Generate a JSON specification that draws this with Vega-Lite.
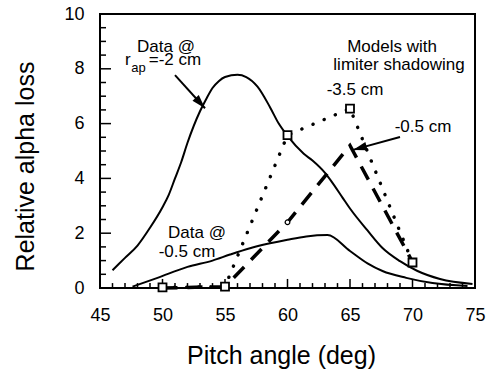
{
  "$schema": "https://vega.github.io/schema/vega-lite/v6.json",
  "width": 375,
  "height": 274,
  "autosize": {"type": "none"},
  "padding": {"left": 100, "top": 14, "right": 12, "bottom": 86},
  "background": "white",
  "config": {
    "view": {"stroke": "black", "strokeWidth": 2, "fill": "transparent"},
    "font": "Liberation Sans",
    "axis": {
      "grid": false,
      "domain": false,
      "tickColor": "black",
      "tickWidth": 1.5,
      "labelFont": "Liberation Sans",
      "labelFontSize": 18,
      "labelColor": "black",
      "labelFlush": false,
      "labelOverlap": false,
      "titleFont": "Liberation Sans",
      "titleFontSize": 25,
      "titleFontWeight": "normal",
      "titleColor": "black"
    }
  },
  "datasets": {
    "curves": [
      {"s": "rap2", "x": 46.0, "y": 0.65},
      {"s": "rap2", "x": 47.0, "y": 1.1},
      {"s": "rap2", "x": 48.0, "y": 1.55},
      {"s": "rap2", "x": 49.0, "y": 2.2},
      {"s": "rap2", "x": 50.0, "y": 2.95},
      {"s": "rap2", "x": 50.5, "y": 3.4},
      {"s": "rap2", "x": 51.0, "y": 4.0},
      {"s": "rap2", "x": 51.5, "y": 4.6},
      {"s": "rap2", "x": 52.0, "y": 5.3},
      {"s": "rap2", "x": 53.0, "y": 6.45},
      {"s": "rap2", "x": 53.5, "y": 6.9},
      {"s": "rap2", "x": 54.0, "y": 7.3},
      {"s": "rap2", "x": 54.5, "y": 7.55},
      {"s": "rap2", "x": 55.0, "y": 7.7},
      {"s": "rap2", "x": 56.0, "y": 7.78},
      {"s": "rap2", "x": 56.7, "y": 7.7},
      {"s": "rap2", "x": 57.6, "y": 7.35},
      {"s": "rap2", "x": 58.6, "y": 6.6},
      {"s": "rap2", "x": 59.3, "y": 6.0},
      {"s": "rap2", "x": 60.0, "y": 5.55},
      {"s": "rap2", "x": 61.3, "y": 4.9},
      {"s": "rap2", "x": 62.0, "y": 4.65},
      {"s": "rap2", "x": 63.0, "y": 4.2},
      {"s": "rap2", "x": 63.5, "y": 3.9},
      {"s": "rap2", "x": 64.4, "y": 3.3},
      {"s": "rap2", "x": 65.0, "y": 2.9},
      {"s": "rap2", "x": 66.4, "y": 2.1},
      {"s": "rap2", "x": 67.6, "y": 1.46},
      {"s": "rap2", "x": 69.0, "y": 0.98},
      {"s": "rap2", "x": 70.4, "y": 0.62},
      {"s": "rap2", "x": 72.2, "y": 0.33},
      {"s": "rap2", "x": 74.8, "y": 0.15},
      {"s": "rap05", "x": 47.6, "y": 0.05},
      {"s": "rap05", "x": 49.6, "y": 0.37},
      {"s": "rap05", "x": 52.0, "y": 0.77},
      {"s": "rap05", "x": 54.0, "y": 1.0},
      {"s": "rap05", "x": 55.4, "y": 1.22},
      {"s": "rap05", "x": 57.0, "y": 1.45},
      {"s": "rap05", "x": 58.6, "y": 1.63},
      {"s": "rap05", "x": 60.0, "y": 1.76},
      {"s": "rap05", "x": 61.5, "y": 1.88},
      {"s": "rap05", "x": 63.2, "y": 1.93},
      {"s": "rap05", "x": 65.0, "y": 1.35},
      {"s": "rap05", "x": 66.4, "y": 0.9},
      {"s": "rap05", "x": 67.6, "y": 0.62},
      {"s": "rap05", "x": 69.5, "y": 0.37},
      {"s": "rap05", "x": 71.6, "y": 0.18},
      {"s": "rap05", "x": 74.4, "y": 0.07}
    ],
    "model35": [
      {"x": 50, "y": 0.02},
      {"x": 55, "y": 0.05},
      {"x": 60, "y": 5.58},
      {"x": 65, "y": 6.55},
      {"x": 70, "y": 0.93}
    ],
    "model05": [
      {"x": 50, "y": 0.0},
      {"x": 55, "y": 0.05},
      {"x": 60, "y": 2.4},
      {"x": 65, "y": 5.2},
      {"x": 70, "y": 0.95}
    ],
    "circle": [{"x": 60, "y": 2.4}],
    "arrows": [
      {"a": "a1", "x": 51.0, "y": 7.77},
      {"a": "a1", "x": 53.4, "y": 6.56},
      {"a": "a2", "x": 69.0, "y": 5.51},
      {"a": "a2", "x": 65.24, "y": 5.04}
    ],
    "head1": [{"x": 53.4, "y": 6.56}],
    "head2": [{"x": 65.24, "y": 5.04}],
    "xmajor": [{"v": 50}, {"v": 55}, {"v": 60}, {"v": 65}, {"v": 70}],
    "xminor": [{"v": 46}, {"v": 47}, {"v": 48}, {"v": 49}, {"v": 51}, {"v": 52}, {"v": 53}, {"v": 54}, {"v": 56}, {"v": 57}, {"v": 58}, {"v": 59}, {"v": 61}, {"v": 62}, {"v": 63}, {"v": 64}, {"v": 66}, {"v": 67}, {"v": 68}, {"v": 69}, {"v": 71}, {"v": 72}, {"v": 73}, {"v": 74}],
    "ymajor": [{"v": 2}, {"v": 4}, {"v": 6}, {"v": 8}],
    "yminor": [{"v": 0.5}, {"v": 1}, {"v": 1.5}, {"v": 2.5}, {"v": 3}, {"v": 3.5}, {"v": 4.5}, {"v": 5}, {"v": 5.5}, {"v": 6.5}, {"v": 7}, {"v": 7.5}, {"v": 8.5}, {"v": 9}, {"v": 9.5}],
    "labels": [
      {"x": 50.28, "y": 8.61, "t": "Data @"},
      {"x": 68.36, "y": 8.61, "t": "Models with"},
      {"x": 68.92, "y": 7.96, "t": "limiter shadowing"},
      {"x": 65.4, "y": 7.04, "t": "-3.5 cm"},
      {"x": 70.84, "y": 5.69, "t": "-0.5 cm"},
      {"x": 52.76, "y": 1.82, "t": "Data @"},
      {"x": 51.96, "y": 1.13, "t": "-0.5 cm"}
    ],
    "rlabel": [
      {"x": 47.0, "y": 8.14, "t": "r"},
      {"x": 48.9, "y": 8.14, "t": "=-2 cm"}
    ],
    "sublabel": [{"x": 47.5, "y": 7.88, "t": "ap"}]
  },
  "layer": [
    {
      "data": {"name": "curves"},
      "mark": {"type": "line", "color": "black", "strokeWidth": 2, "interpolate": "monotone"},
      "encoding": {
        "x": {
          "field": "x", "type": "quantitative",
          "scale": {"domain": [45, 75], "nice": false, "zero": false},
          "axis": {
            "orient": "bottom",
            "title": "Pitch angle (deg)",
            "values": [45, 50, 55, 60, 65, 70, 75],
            "ticks": false,
            "labelPadding": 18,
            "titleBaseline": "alphabetic",
            "titleY": 75,
            "titleX": 181
          }
        },
        "y": {
          "field": "y", "type": "quantitative",
          "scale": {"domain": [0, 10], "nice": false},
          "axis": {
            "orient": "left",
            "title": "Relative alpha loss",
            "values": [0, 2, 4, 6, 8, 10],
            "ticks": false,
            "labelPadding": 16,
            "titleBaseline": "alphabetic",
            "titleX": -67,
            "titleY": 152
          }
        },
        "detail": {"field": "s"}
      }
    },
    {
      "data": {"name": "xmajor"},
      "mark": {"type": "rule", "color": "black", "strokeWidth": 1.5},
      "encoding": {
        "x": {"field": "v", "type": "quantitative"},
        "y": {"datum": 0, "type": "quantitative"},
        "y2": {"datum": 0.33}
      }
    },
    {
      "data": {"name": "xminor"},
      "mark": {"type": "rule", "color": "black", "strokeWidth": 1.5},
      "encoding": {
        "x": {"field": "v", "type": "quantitative"},
        "y": {"datum": 0, "type": "quantitative"},
        "y2": {"datum": 0.18}
      }
    },
    {
      "data": {"name": "ymajor"},
      "mark": {"type": "rule", "color": "black", "strokeWidth": 1.5},
      "encoding": {
        "y": {"field": "v", "type": "quantitative"},
        "x": {"datum": 45, "type": "quantitative"},
        "x2": {"datum": 45.88}
      }
    },
    {
      "data": {"name": "yminor"},
      "mark": {"type": "rule", "color": "black", "strokeWidth": 1.5},
      "encoding": {
        "y": {"field": "v", "type": "quantitative"},
        "x": {"datum": 45, "type": "quantitative"},
        "x2": {"datum": 45.48}
      }
    },
    {
      "data": {"name": "model05"},
      "mark": {"type": "line", "color": "black", "strokeWidth": 3.5, "strokeDash": [15, 10]},
      "encoding": {
        "x": {"field": "x", "type": "quantitative"},
        "y": {"field": "y", "type": "quantitative"}
      }
    },
    {
      "data": {"name": "model35"},
      "mark": {"type": "line", "color": "black", "strokeWidth": 3.5, "strokeCap": "round", "strokeDash": [0.1, 12]},
      "encoding": {
        "x": {"field": "x", "type": "quantitative"},
        "y": {"field": "y", "type": "quantitative"}
      }
    },
    {
      "data": {"name": "model35"},
      "mark": {"type": "point", "shape": "square", "size": 64, "filled": true, "fill": "white", "stroke": "black", "strokeWidth": 1.8, "opacity": 1},
      "encoding": {
        "x": {"field": "x", "type": "quantitative"},
        "y": {"field": "y", "type": "quantitative"}
      }
    },
    {
      "data": {"name": "circle"},
      "mark": {"type": "point", "shape": "circle", "size": 22, "filled": true, "fill": "white", "stroke": "black", "strokeWidth": 1.2, "opacity": 1},
      "encoding": {
        "x": {"field": "x", "type": "quantitative"},
        "y": {"field": "y", "type": "quantitative"}
      }
    },
    {
      "data": {"name": "arrows"},
      "mark": {"type": "line", "color": "black", "strokeWidth": 2},
      "encoding": {
        "x": {"field": "x", "type": "quantitative"},
        "y": {"field": "y", "type": "quantitative"},
        "detail": {"field": "a"}
      }
    },
    {
      "data": {"name": "head1"},
      "mark": {"type": "point", "shape": "M0,0L0.6,2L-0.6,2Z", "size": 196, "filled": true, "color": "black", "opacity": 1, "angle": 138},
      "encoding": {
        "x": {"field": "x", "type": "quantitative"},
        "y": {"field": "y", "type": "quantitative"}
      }
    },
    {
      "data": {"name": "head2"},
      "mark": {"type": "point", "shape": "M0,0L0.6,2L-0.6,2Z", "size": 196, "filled": true, "color": "black", "opacity": 1, "angle": 254.5},
      "encoding": {
        "x": {"field": "x", "type": "quantitative"},
        "y": {"field": "y", "type": "quantitative"}
      }
    },
    {
      "data": {"name": "labels"},
      "mark": {"type": "text", "font": "Liberation Sans", "fontSize": 17, "color": "black", "align": "center", "baseline": "alphabetic"},
      "encoding": {
        "x": {"field": "x", "type": "quantitative"},
        "y": {"field": "y", "type": "quantitative"},
        "text": {"field": "t"}
      }
    },
    {
      "data": {"name": "rlabel"},
      "mark": {"type": "text", "font": "Liberation Sans", "fontSize": 17, "color": "black", "align": "left", "baseline": "alphabetic"},
      "encoding": {
        "x": {"field": "x", "type": "quantitative"},
        "y": {"field": "y", "type": "quantitative"},
        "text": {"field": "t"}
      }
    },
    {
      "data": {"name": "sublabel"},
      "mark": {"type": "text", "font": "Liberation Sans", "fontSize": 13, "color": "black", "align": "left", "baseline": "alphabetic"},
      "encoding": {
        "x": {"field": "x", "type": "quantitative"},
        "y": {"field": "y", "type": "quantitative"},
        "text": {"field": "t"}
      }
    }
  ]
}
